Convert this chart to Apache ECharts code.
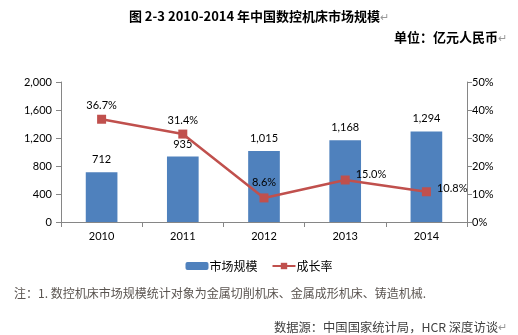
<!DOCTYPE html>
<html><head><meta charset="utf-8">
<script src="https://cdn.jsdelivr.net/npm/echarts@6/dist/echarts.min.js"></script>
<style>html,body{margin:0;padding:0;background:#fff}#c{width:518px;height:335px}</style>
</head><body><div id="c"></div>
<script>
const years = ['2010','2011','2012','2013','2014'];
const marketSize = [712, 935, 1015, 1168, 1294];
const growthRate = [36.7, 31.4, 8.6, 15.0, 10.8];
const leftTicks = {min: 0, max: 2000, interval: 400};
const rightTicks = {min: 0, max: 50, interval: 10};

const numFont = "'Lato','Noto Sans',sans-serif";
const cjk = "'Noto Sans CJK SC','Microsoft YaHei',sans-serif";
const axisColor = '#868686';
const linePlacement = [
  {position:'top', distance:4},
  {position:'top', distance:4},
  {position:'top', distance:5},
  {position:'right', distance:6, offset:[0,-6]},
  {position:'right', distance:6, offset:[0,-3]}
];

const chart = echarts.init(document.getElementById('c'), null, {renderer:'canvas'});
chart.setOption({
  animation:false,
  backgroundColor:'#fff',
  title:[
    {text:'图 2-3 2010-2014 年中国数控机床市场规模{r|↵}', left:'center', top:5,
     textStyle:{fontFamily:cjk, fontSize:13, fontWeight:'bold', color:'#000',
       rich:{r:{color:'#999', fontSize:11, fontWeight:'normal'}}}},
    {text:'单位：亿元人民币{r|↵}', right:6, top:26,
     textStyle:{fontFamily:cjk, fontSize:13, fontWeight:'bold', color:'#000',
       rich:{r:{color:'#999', fontSize:11, fontWeight:'normal'}}}},
    {text:'注：1. 数控机床市场规模统计对象为金属切削机床、金属成形机床、铸造机械.', left:9, top:282,
     textStyle:{fontFamily:cjk, fontSize:12, fontWeight:'normal', color:'#5a5450'}},
    {text:'数据源：中国国家统计局，HCR 深度访谈{r|↵}', right:6, top:316,
     textStyle:{fontFamily:cjk, fontSize:12.3, fontWeight:'normal', color:'#404040',
       rich:{r:{color:'#999', fontSize:11}}}}
  ],
  legend:{
    left:'center', top:255, itemGap:14, itemWidth:23, itemHeight:8,
    textStyle:{fontFamily:cjk, fontSize:12, color:'#000', padding:[0,0,0,-4]},
    data:['市场规模','成长率']
  },
  grid:{left:61, right:51, top:82, bottom:113, containLabel:false},
  xAxis:{
    type:'category', data:years, boundaryGap:true,
    axisLine:{lineStyle:{color:axisColor}},
    axisTick:{show:true, length:5, alignWithLabel:false, lineStyle:{color:axisColor}},
    axisLabel:{fontFamily:numFont, fontSize:11, color:'#000', margin:9}
  },
  yAxis:[
    {type:'value', min:leftTicks.min, max:leftTicks.max, interval:leftTicks.interval,
     splitLine:{show:false},
     axisLine:{show:true, lineStyle:{color:axisColor}},
     axisTick:{show:true, length:5, lineStyle:{color:axisColor}},
     axisLabel:{fontFamily:numFont, fontSize:11, color:'#000', margin:9,
       formatter:v=>v.toLocaleString('en-US')}},
    {type:'value', min:rightTicks.min, max:rightTicks.max, interval:rightTicks.interval,
     position:'right', splitLine:{show:false},
     axisLine:{show:true, lineStyle:{color:axisColor}},
     axisTick:{show:true, length:5, lineStyle:{color:axisColor}},
     axisLabel:{fontFamily:numFont, fontSize:11, color:'#000', margin:5, formatter:'{value}%'}}
  ],
  series:[
    {name:'市场规模', type:'bar', data:marketSize, barWidth:'39%',
     itemStyle:{color:'#4F81BD'},
     label:{show:true, position:'top', distance:7, fontFamily:numFont, fontSize:11, color:'#000',
       formatter:p=>p.value.toLocaleString('en-US')}},
    {name:'成长率', type:'line', yAxisIndex:1,
     data:growthRate.map((v,i)=>({value:v, label:linePlacement[i]})),
     symbol:'rect', symbolSize:9, lineStyle:{color:'#C0504D', width:2.5},
     itemStyle:{color:'#C0504D'},
     label:{show:true, fontFamily:numFont, fontSize:11, color:'#000',
       formatter:p=>p.value.toFixed(1)+'%'}}
  ]
});
</script></body></html>
